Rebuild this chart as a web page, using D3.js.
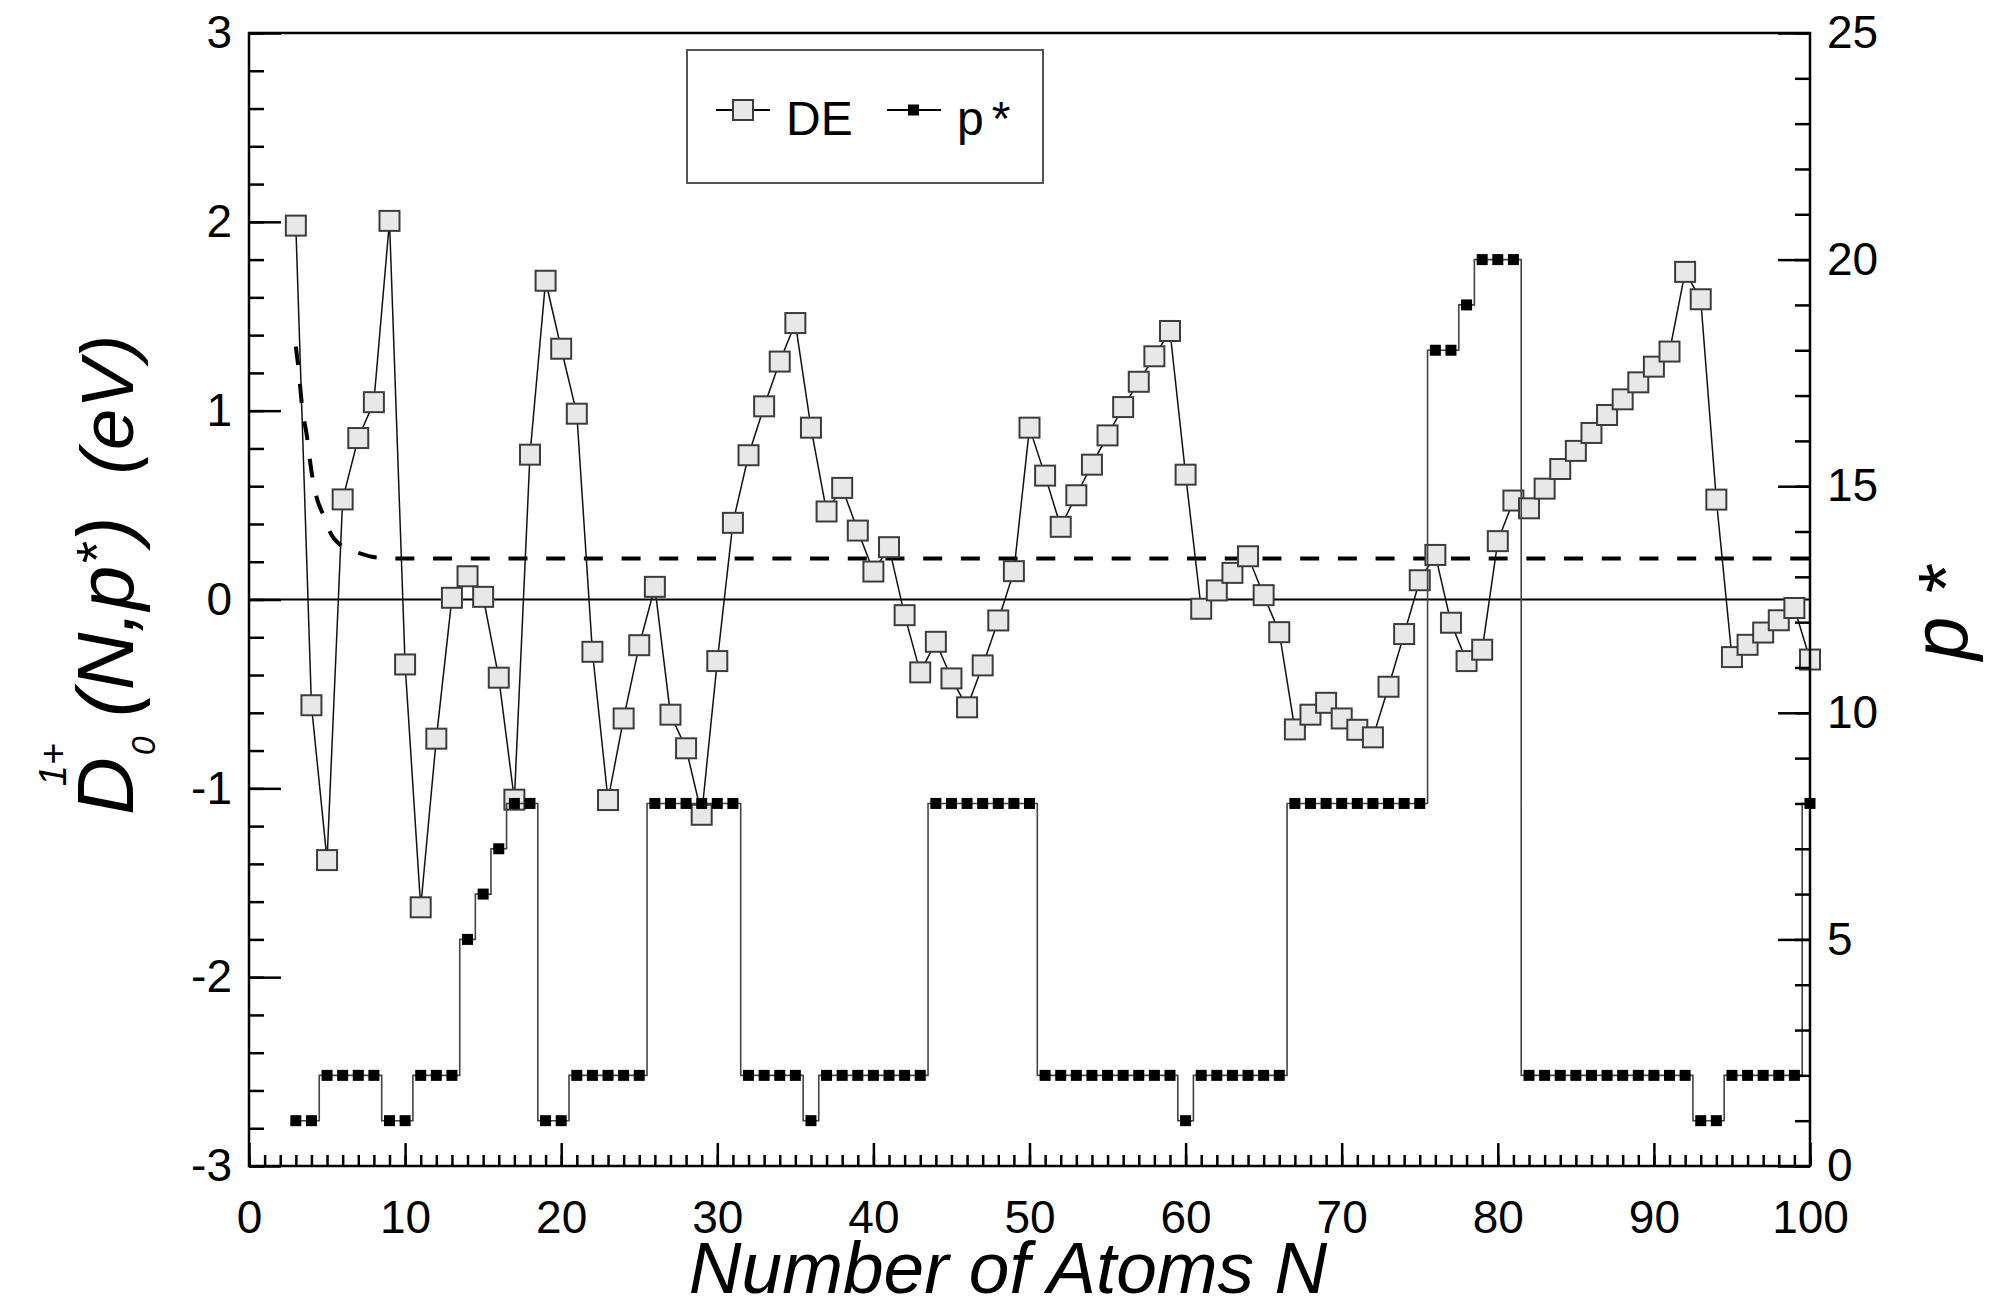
<!DOCTYPE html>
<html><head><meta charset="utf-8">
<script src="https://cdn.jsdelivr.net/npm/d3@7"></script>
<style>
html,body{margin:0;padding:0;background:#fff;}
svg{display:block;}
text{font-family:"Liberation Sans",Arial,sans-serif;fill:#000;}
</style></head>
<body>
<svg id="chart" width="1990" height="1307"></svg>
<script>
// ---- data ----
const atomsN = [3,4,5,6,7,8,9,10,11,12,13,14,15,16,17,18,19,20,21,22,23,24,25,26,27,28,29,30,31,32,33,34,35,36,37,38,39,40,41,42,43,44,45,46,47,48,49,50,51,52,53,54,55,56,57,58,59,60,61,62,63,64,65,66,67,68,69,70,71,72,73,74,75,76,77,78,79,80,81,82,83,84,85,86,87,88,89,90,91,92,93,94,95,96,97,98,99,100];
const deValues = [1.98,-0.56,-1.38,0.53,0.855,1.045,2.005,-0.344,-1.63,-0.737,0.009,0.123,0.014,-0.414,-1.06,0.767,1.688,1.328,0.984,-0.277,-1.062,-0.63,-0.242,0.067,-0.61,-0.788,-1.14,-0.326,0.406,0.764,1.023,1.26,1.464,0.91,0.466,0.591,0.365,0.148,0.277,-0.083,-0.386,-0.224,-0.418,-0.571,-0.349,-0.111,0.15,0.91,0.656,0.385,0.552,0.714,0.869,1.019,1.153,1.288,1.422,0.661,-0.049,0.048,0.141,0.229,0.023,-0.173,-0.688,-0.61,-0.547,-0.63,-0.69,-0.73,-0.462,-0.183,0.102,0.236,-0.123,-0.326,-0.266,0.309,0.524,0.483,0.587,0.691,0.787,0.882,0.977,1.06,1.15,1.233,1.313,1.735,1.59,0.529,-0.305,-0.24,-0.175,-0.11,-0.045,-0.318];
const pStar = [1,1,2,2,2,2,1,1,2,2,2,5,6,7,8,8,1,1,2,2,2,2,2,8,8,8,8,8,8,2,2,2,2,1,2,2,2,2,2,2,2,8,8,8,8,8,8,8,2,2,2,2,2,2,2,2,2,1,2,2,2,2,2,2,8,8,8,8,8,8,8,8,8,18,18,19,20,20,20,2,2,2,2,2,2,2,2,2,2,2,1,1,2,2,2,2,2,8];
const dashN  = [3.0,3.2,3.4,3.7,4.0,4.3,4.8,5.2,6.0,7.0,8.2,9.5,100];
const dashDE = [1.34,1.2,1.02,0.87,0.68,0.55,0.44,0.355,0.28,0.247,0.222,0.217,0.217];
const xTickLabels = [0,10,20,30,40,50,60,70,80,90,100];
const yLeftTickLabels = [-3,-2,-1,0,1,2,3];
const yRightTickLabels = [0,5,10,15,20,25];
const legendLabels = ["DE","p"];

// ---- layout ----
const svg = d3.select("#chart");
const L = 249, R = 1810, T = 33, B = 1166;
const x = d3.scaleLinear().domain([0,100]).range([L,R]);
const yL = d3.scaleLinear().domain([-3,3]).range([B,T]);
const yR = d3.scaleLinear().domain([0,25]).range([B,T]);

const deData = atomsN.map((n,i)=>({n, v:deValues[i]}));
const pData = atomsN.map((n,i)=>({n, v:pStar[i]}));
const dashData = dashN.map((n,i)=>({n, v:dashDE[i]}));

const plot = svg.append("g");

// zero line
plot.append("line").attr("x1",x(0)).attr("x2",x(100)).attr("y1",yL(0)).attr("y2",yL(0))
  .attr("stroke","#000").attr("stroke-width",2.2);

// dashed reference curve
plot.append("path").datum(dashData)
  .attr("d", d3.line().x(d=>x(d.n)).y(d=>yL(d.v)).curve(d3.curveMonotoneX))
  .attr("fill","none").attr("stroke","#000").attr("stroke-width",4)
  .attr("stroke-dasharray","19 18.7");

// DE line + markers
plot.append("path").datum(deData)
  .attr("d", d3.line().x(d=>x(d.n)).y(d=>yL(d.v)))
  .attr("fill","none").attr("stroke","#111").attr("stroke-width",1.5);
const sq = 20;
plot.selectAll("rect.de").data(deData).join("rect").attr("class","de")
  .attr("x",d=>x(d.n)-sq/2).attr("y",d=>yL(d.v)-sq/2).attr("width",sq).attr("height",sq)
  .attr("fill","#e8e8e8").attr("stroke","#3c3c3c").attr("stroke-width",2);

// p* step line + markers
plot.append("path").datum(pData)
  .attr("d", d3.line().x(d=>x(d.n)).y(d=>yR(d.v)).curve(d3.curveStep))
  .attr("fill","none").attr("stroke","#444").attr("stroke-width",1.6);
const ps = 11;
plot.selectAll("rect.ps").data(pData).join("rect").attr("class","ps")
  .attr("x",d=>x(d.n)-ps/2).attr("y",d=>yR(d.v)-ps/2).attr("width",ps).attr("height",ps)
  .attr("fill","#000");

// ---- axes ----
const tickFont = 46;
function styleAxis(g){
  g.select(".domain").remove();
  g.selectAll(".tick line").attr("stroke","#000").attr("stroke-width",2.5);
  g.selectAll(".tick text").attr("font-size",tickFont).attr("font-family","Liberation Sans, Arial, sans-serif").attr("fill","#000");
}
function minorOnly(g){ g.selectAll(".tick text").remove(); }
// left
svg.append("g").attr("transform",`translate(${L},0)`)
  .call(d3.axisLeft(yL).tickValues(d3.range(-3,3.001,0.2)).tickSizeInner(-15).tickSizeOuter(0))
  .call(styleAxis).call(minorOnly);
svg.append("g").attr("transform",`translate(${L},0)`)
  .call(d3.axisLeft(yL).tickValues(yLeftTickLabels).tickSizeInner(-32).tickSizeOuter(0).tickPadding(17).tickFormat(d=>String(d)))
  .call(styleAxis);
// right
svg.append("g").attr("transform",`translate(${R},0)`)
  .call(d3.axisRight(yR).tickValues(d3.range(0,25.001,1)).tickSizeInner(-15).tickSizeOuter(0))
  .call(styleAxis).call(minorOnly);
svg.append("g").attr("transform",`translate(${R},0)`)
  .call(d3.axisRight(yR).tickValues(yRightTickLabels).tickSizeInner(-32).tickSizeOuter(0).tickPadding(17).tickFormat(d=>String(d)))
  .call(styleAxis);
// bottom
svg.append("g").attr("transform",`translate(0,${B})`)
  .call(d3.axisBottom(x).tickValues(d3.range(0,100.001,1)).tickSizeInner(-11).tickSizeOuter(0))
  .call(styleAxis).call(minorOnly);
svg.append("g").attr("transform",`translate(0,${B})`)
  .call(d3.axisBottom(x).tickValues(xTickLabels).tickSizeInner(-23).tickSizeOuter(0).tickPadding(34).tickFormat(d=>String(d)))
  .call(styleAxis);

// frame
svg.append("rect").attr("x",L).attr("y",T).attr("width",R-L).attr("height",B-T)
  .attr("fill","none").attr("stroke","#000").attr("stroke-width",2.5);

// ---- titles ----
svg.append("text").attr("x",1008).attr("y",1293).attr("text-anchor","middle")
  .attr("font-size",73).attr("font-style","italic").text("Number of Atoms N");

const lt = svg.append("text").attr("transform","translate(133,815) rotate(-90)")
  .attr("font-size",80).attr("font-style","italic");
lt.append("tspan").text("D");
lt.append("tspan").attr("font-size",34).attr("dx",2).attr("dy",22).text("0");
lt.append("tspan").attr("font-size",38).attr("dx",-50).attr("dy",-89).text("1+");
lt.append("tspan").attr("font-size",80).attr("dx",26).attr("dy",67).text("(N,p");
lt.append("tspan").attr("font-size",58).attr("dy",-16).text("*");
lt.append("tspan").attr("font-size",80).attr("dy",16).text(")");
lt.append("tspan").attr("font-size",74).attr("dx",42).text("(eV)");

const rt = svg.append("text").attr("transform","translate(1967,660) rotate(-90)")
  .attr("font-size",78).attr("font-style","italic");
rt.append("tspan").text("p");
rt.append("tspan").attr("dx",20).attr("dy",6).text("*");

// ---- legend ----
const lg = svg.append("g");
lg.append("rect").attr("x",687).attr("y",50).attr("width",356).attr("height",133)
  .attr("fill","#fff").attr("stroke","#555").attr("stroke-width",2);
lg.append("line").attr("x1",716).attr("x2",770).attr("y1",110).attr("y2",110).attr("stroke","#000").attr("stroke-width",2);
lg.append("rect").attr("x",733).attr("y",100).attr("width",20).attr("height",20)
  .attr("fill","#e8e8e8").attr("stroke","#3c3c3c").attr("stroke-width",2);
lg.append("text").attr("x",786).attr("y",135).attr("font-size",48).text(legendLabels[0]);
lg.append("line").attr("x1",887).attr("x2",941).attr("y1",110).attr("y2",110).attr("stroke","#000").attr("stroke-width",2);
lg.append("rect").attr("x",908).attr("y",104.5).attr("width",11).attr("height",11).attr("fill","#000");
const lp = lg.append("text").attr("x",957).attr("y",135).attr("font-size",48);
lp.append("tspan").text(legendLabels[1]);
lp.append("tspan").attr("dx",8).text("*");
</script>
</body></html>
